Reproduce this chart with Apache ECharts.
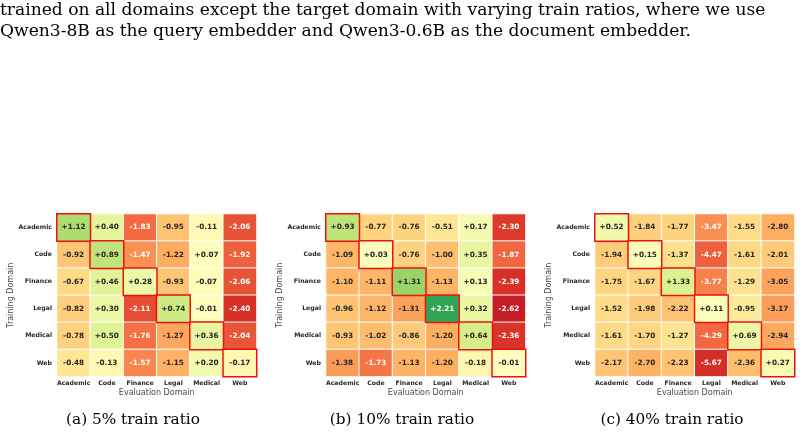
<!DOCTYPE html>
<html><head><meta charset="utf-8">
<script src="https://cdn.jsdelivr.net/npm/echarts@6/dist/echarts.min.js"></script>
<style>html,body{margin:0;padding:0;background:#fff}#c{width:804px;height:436px}</style>
</head><body><div id="c"></div>
<script>
const domains = ['Academic','Code','Finance','Legal','Medical','Web'];
// rows = training domain, cols = evaluation domain
const valsA = [
  [ 1.12,  0.40, -1.83, -0.95, -0.11, -2.06],
  [-0.92,  0.89, -1.47, -1.22,  0.07, -1.92],
  [-0.67,  0.46,  0.28, -0.93, -0.07, -2.06],
  [-0.82,  0.30, -2.11,  0.74, -0.01, -2.40],
  [-0.78,  0.50, -1.76, -1.27,  0.36, -2.04],
  [-0.48, -0.13, -1.57, -1.15,  0.20, -0.17]
];
const valsB = [
  [ 0.93, -0.77, -0.76, -0.51,  0.17, -2.30],
  [-1.09,  0.03, -0.76, -1.00,  0.35, -1.87],
  [-1.10, -1.11,  1.31, -1.13,  0.13, -2.39],
  [-0.96, -1.12, -1.31,  2.21,  0.32, -2.62],
  [-0.93, -1.02, -0.86, -1.20,  0.64, -2.36],
  [-1.38, -1.73, -1.13, -1.20, -0.18, -0.01]
];
const valsC = [
  [ 0.52, -1.84, -1.77, -3.47, -1.55, -2.80],
  [-1.94,  0.15, -1.37, -4.47, -1.61, -2.01],
  [-1.75, -1.67,  1.33, -3.77, -1.29, -3.05],
  [-1.52, -1.98, -2.22,  0.11, -0.95, -3.17],
  [-1.61, -1.70, -1.27, -4.29,  0.69, -2.94],
  [-2.17, -2.70, -2.23, -5.67, -2.36,  0.27]
];
const colorLimits = [3, 3, 7];
const subCaptions = ['(a) 5% train ratio', '(b) 10% train ratio', '(c) 40% train ratio'];
const captionLines = [
  'trained on all domains except the target domain with varying train ratios, where we use',
  'Qwen3-8B as the query embedder and Qwen3-0.6B as the document embedder.'
];
const xAxisTitle = 'Evaluation Domain';
const yAxisTitle = 'Training Domain';

const RdYlGn = ['#a50026','#d73027','#f46d43','#fdae61','#fee08b','#ffffbf','#d9ef8b','#a6d96a','#66bd63','#1a9850','#006837'];
function hex2rgb(h){return [parseInt(h.substr(1,2),16),parseInt(h.substr(3,2),16),parseInt(h.substr(5,2),16)];}
function cmap(t){
  t=Math.max(0,Math.min(1,t));
  const p=t*(RdYlGn.length-1); const i=Math.min(Math.floor(p),RdYlGn.length-2); const f=p-i;
  const a=hex2rgb(RdYlGn[i]), b=hex2rgb(RdYlGn[i+1]);
  return a.map((v,k)=>v+(b[k]-v)*f);
}
function lum(rgb){
  const c=rgb.map(v=>{v/=255;return v<=0.03928?v/12.92:Math.pow((v+0.055)/1.055,2.4);});
  return 0.2126*c[0]+0.7152*c[1]+0.0722*c[2];
}
function fmt(v){return (v>=0?'+':'')+v.toFixed(2);}

const panels = [valsA, valsB, valsC];
const gridLefts = [57, 326, 595];
const gridW = 199.5, gridTop = 214, gridH = 162.5;

const grids=[], xAxes=[], yAxes=[], series=[], visualMaps=[], graphics=[];
panels.forEach((vals, pi)=>{
  grids.push({left:gridLefts[pi], top:gridTop, width:gridW, height:gridH, containLabel:false});
  xAxes.push({type:'category', gridIndex:pi, data:domains, position:'bottom',
    axisLine:{show:false}, axisTick:{show:false}, splitLine:{show:false},
    axisLabel:{fontFamily:'DejaVu Sans', fontWeight:'bold', fontSize:6.2, color:'#262626', margin:4, interval:0},
    name:xAxisTitle, nameLocation:'middle', nameGap:12,
    nameTextStyle:{fontFamily:'DejaVu Sans', fontSize:8, color:'#4a4a4a'}});
  yAxes.push({type:'category', gridIndex:pi, data:domains, inverse:true,
    axisLine:{show:false}, axisTick:{show:false}, splitLine:{show:false},
    axisLabel:{fontFamily:'DejaVu Sans', fontWeight:'bold', fontSize:6.2, color:'#262626', margin:5, interval:0},
    name:yAxisTitle, nameLocation:'middle', nameGap:37, nameRotate:90,
    nameTextStyle:{fontFamily:'DejaVu Sans', fontSize:8, color:'#4a4a4a'}});
  const lim = colorLimits[pi];
  visualMaps.push({type:'continuous', show:false, seriesIndex:pi, dimension:2, min:-lim, max:lim, inRange:{color:RdYlGn}});
  const normal=[], diag=[];
  vals.forEach((row, r)=>row.forEach((v, c)=>{
    const col = cmap((v+lim)/(2*lim));
    const txt = lum(col) > 0.42 ? '#262626' : '#ffffff';
    const item = {value:[c, r, v], label:{color:txt}};
    if (r===c) { item.itemStyle={borderColor:'#f01010', borderWidth:1.5}; diag.push(item); }
    else normal.push(item);
  }));
  series.push({type:'heatmap', xAxisIndex:pi, yAxisIndex:pi, data:normal.concat(diag),
    itemStyle:{borderColor:'#ffffff', borderWidth:1},
    label:{show:true, formatter:p=>fmt(p.value[2]), fontFamily:'DejaVu Sans', fontWeight:'bold', fontSize:7.3},
    emphasis:{disabled:true}, animation:false});
});

// fit caption font to the reference line width
const mctx = document.createElement('canvas').getContext('2d');
mctx.font = '20px "DejaVu Serif"';
const capFs = Math.min(19, 20 * 766 / mctx.measureText(captionLines[0]).width);
mctx.font = '20px "DejaVu Serif"';
const subFs = Math.min(17, 20 * 134 / mctx.measureText(subCaptions[0]).width);

const capCenters=[133, 402, 672];
subCaptions.forEach((s,i)=>graphics.push({type:'text', x:capCenters[i], y:420,
  style:{text:s, fontFamily:'DejaVu Serif', fontSize:subFs, fill:'#000', align:'center', verticalAlign:'middle'}}));
const capMid=[10.5, 31.5];
captionLines.forEach((s,i)=>graphics.push({type:'text', x:0, y:capMid[i],
  style:{text:s, fontFamily:'DejaVu Serif', fontSize:capFs, fill:'#000', align:'left', verticalAlign:'middle'}}));

const chart = echarts.init(document.getElementById('c'), null, {renderer:'canvas'});
chart.setOption({animation:false, backgroundColor:'#fff', grid:grids, xAxis:xAxes, yAxis:yAxes,
  visualMap:visualMaps, series:series, graphic:graphics});
</script></body></html>
